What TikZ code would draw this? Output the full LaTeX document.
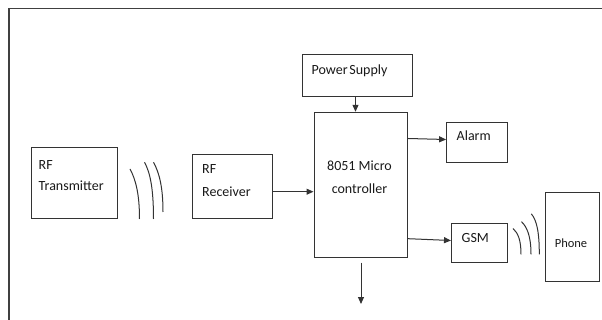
\documentclass[tikz,border=0pt]{standalone}
\usepackage{fontspec}
\setmainfont{Carlito}
\usetikzlibrary{arrows.meta}
\begin{document}
\begin{tikzpicture}[x=1pt,y=-1pt,
  box/.style={draw=black!80,line width=1pt,inner sep=0pt,rectangle},
  lbl/.style={anchor=base west,inner sep=0pt,text=black!90,font=\fontsize{14}{16}\selectfont},
  clbl/.style={lbl,anchor=base},
  arr/.style={draw=black!80,line width=1pt,-{Triangle[length=7pt,width=6pt]}},
  wave/.style={draw=black!80,line width=1pt},
  frame/.style={draw=black!75,line width=1.2pt}]
\useasboundingbox (0,0) rectangle (602,320);
% frame
\coordinate (fr1) at (9,320);
\coordinate (fr2) at (9,8.5);
\coordinate (fr3) at (602,8.5);
\draw[frame] (fr1) -- (fr2) -- (fr3);
% boxes
\node[box,minimum width=86pt,minimum height=71pt] (tx) at (74.5,183.5) {};
\node[box,minimum width=79.5pt,minimum height=64pt] (rx) at (232.25,187) {};
\node[box,minimum width=110.5pt,minimum height=42.2pt] (ps) at (357.25,75.4) {};
\node[box,minimum width=93.7pt,minimum height=145.2pt] (mc) at (360.85,184.9) {};
\node[box,minimum width=60.4pt,minimum height=40.8pt] (al) at (476.8,142.6) {};
\node[box,minimum width=55.5pt,minimum height=39.6pt] (gsm) at (479.25,243) {};
\node[box,minimum width=53.8pt,minimum height=88.7pt] (ph) at (572.7,236.65) {};
% texts
\node[lbl] (txa) at (38.5,169.5) {RF};
\node[lbl] (txb) at (38.5,191) {Transmitter};
\node[lbl] (rxa) at (202,174) {RF};
\node[lbl] (rxb) at (202,197) {Receiver};
\node[lbl] (pst) at (311.5,74.3) {Power\hspace{0.12em}Supply};
\node[clbl] (mca) at (359.5,171) {8051 Micro};
\node[clbl] (mcb) at (359.5,193.8) {controller};
\node[lbl] (alt) at (456.5,141) {Alarm};
\node[lbl] (gsmt) at (461.5,242.3) {GSM};
\node[clbl,font=\fontsize{12.5}{15}\selectfont] (pht) at (571,248) {Phone};
% arrows
\draw[arr] (rx.east |- 0,191.7) -- (mc.west |- 0,191.7);
\draw[arr] (ps.south -| 355.5,0) -- (mc.north -| 355.5,0);
\draw[arr] (mc.east |- 0,138.5) -- (al.west |- 0,139.5);
\draw[arr] (mc.east |- 0,238.7) -- (gsm.west |- 0,240.5);
\coordinate (dn1) at (361,262.7);
\coordinate (dn2) at (361,304);
\draw[arr] (dn1) -- (dn2);
% waves left
\draw[wave] (130,169) .. controls (136,180) and (139.5,195) .. (139.5,219);
\draw[wave] (144.5,162.3) .. controls (150.5,173) and (153.5,190) .. (153.5,219);
\draw[wave] (153.5,162.3) .. controls (159.5,173) and (163,188) .. (163,212);
% waves phone
\draw[wave] (513,228.5) .. controls (518,233) and (521,240) .. (521,254.3);
\draw[wave] (521.5,221.7) .. controls (527,227) and (531,236) .. (531,254.3);
\draw[wave] (531.3,213.8) .. controls (536.5,220) and (539.3,231) .. (539.3,254.3);
\end{tikzpicture}
\end{document}
